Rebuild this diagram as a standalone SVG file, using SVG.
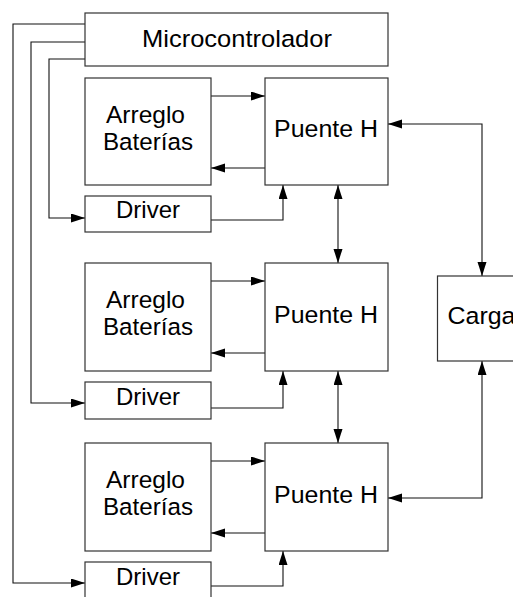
<svg xmlns="http://www.w3.org/2000/svg" width="513" height="597" viewBox="0 0 513 597">
<style>
.box{fill:#fff;stroke:#333;stroke-width:1.2}
.t{font-family:"Liberation Sans",Arial,sans-serif;font-size:24.5px;fill:#000;text-anchor:middle}
.c{fill:none;stroke:#111;stroke-width:1.1}
.a{marker-end:url(#ah)}
.b{marker-start:url(#ah);marker-end:url(#ah)}
</style>
<defs>
<marker id="ah" markerUnits="userSpaceOnUse" markerWidth="15" markerHeight="10" refX="14" refY="4.5" orient="auto-start-reverse">
<path d="M0,0 L14,4.5 L0,9 z" fill="#000"/>
</marker>
</defs>
<rect width="513" height="597" fill="#fff"/>
<g id="connectors">
<path class="c a" d="M85,24 H13 V583 H85"/>
<path class="c a" d="M85,42 H31 V403 H85"/>
<path class="c a" d="M85,59 H49 V218 H85"/>
<path class="c a" d="M211,96 H265"/>
<path class="c a" d="M265,168 H211"/>
<path class="c a" d="M211,220 H283 V185"/>
<path class="c b" d="M338,185 V263"/>
<path class="c b" d="M388,124 H482 V276"/>
<path class="c a" d="M211,281 H265"/>
<path class="c a" d="M265,353 H211"/>
<path class="c a" d="M211,408 H283 V371"/>
<path class="c b" d="M338,371 V443"/>
<path class="c a" d="M211,461 H265"/>
<path class="c a" d="M265,533 H211"/>
<path class="c a" d="M211,586 H283 V551"/>
<path class="c b" d="M482,361 V498 H388"/>
</g>
<g id="micro"><rect class="box" x="85" y="13" width="303" height="53"/><text class="t" x="237" y="46.5" textLength="190" lengthAdjust="spacingAndGlyphs">Microcontrolador</text></g>
<g id="arreglo1"><rect class="box" x="85" y="78" width="126" height="107"/><text class="t" x="145.5" y="123.3" textLength="79" lengthAdjust="spacingAndGlyphs">Arreglo</text><text class="t" x="148" y="150" textLength="90" lengthAdjust="spacingAndGlyphs">Baterías</text></g>
<g id="puente1"><rect class="box" x="265" y="78" width="123" height="107"/><text class="t" x="326" y="137.3" textLength="104" lengthAdjust="spacingAndGlyphs">Puente H</text></g>
<g id="driver1"><rect class="box" x="85" y="196" width="126" height="36"/><text class="t" x="148" y="218.3" textLength="64" lengthAdjust="spacingAndGlyphs">Driver</text></g>
<g id="arreglo2"><rect class="box" x="85" y="263" width="126" height="108"/><text class="t" x="145.5" y="308.3" textLength="79" lengthAdjust="spacingAndGlyphs">Arreglo</text><text class="t" x="148" y="335" textLength="90" lengthAdjust="spacingAndGlyphs">Baterías</text></g>
<g id="puente2"><rect class="box" x="265" y="263" width="123" height="108"/><text class="t" x="326" y="323" textLength="104" lengthAdjust="spacingAndGlyphs">Puente H</text></g>
<g id="driver2"><rect class="box" x="85" y="382" width="126" height="37"/><text class="t" x="148" y="404.5" textLength="64" lengthAdjust="spacingAndGlyphs">Driver</text></g>
<g id="arreglo3"><rect class="box" x="85" y="443" width="126" height="108"/><text class="t" x="145.5" y="488.3" textLength="79" lengthAdjust="spacingAndGlyphs">Arreglo</text><text class="t" x="148" y="515" textLength="90" lengthAdjust="spacingAndGlyphs">Baterías</text></g>
<g id="puente3"><rect class="box" x="265" y="443" width="123" height="108"/><text class="t" x="326" y="503" textLength="104" lengthAdjust="spacingAndGlyphs">Puente H</text></g>
<g id="driver3"><rect class="box" x="85" y="562" width="126" height="36"/><text class="t" x="148" y="584.5" textLength="64" lengthAdjust="spacingAndGlyphs">Driver</text></g>
<g id="carga"><rect class="box" x="437.5" y="276" width="90" height="85"/><text class="t" x="447.5" y="324" style="text-anchor:start" textLength="68" lengthAdjust="spacingAndGlyphs">Carga</text></g>
</svg>
